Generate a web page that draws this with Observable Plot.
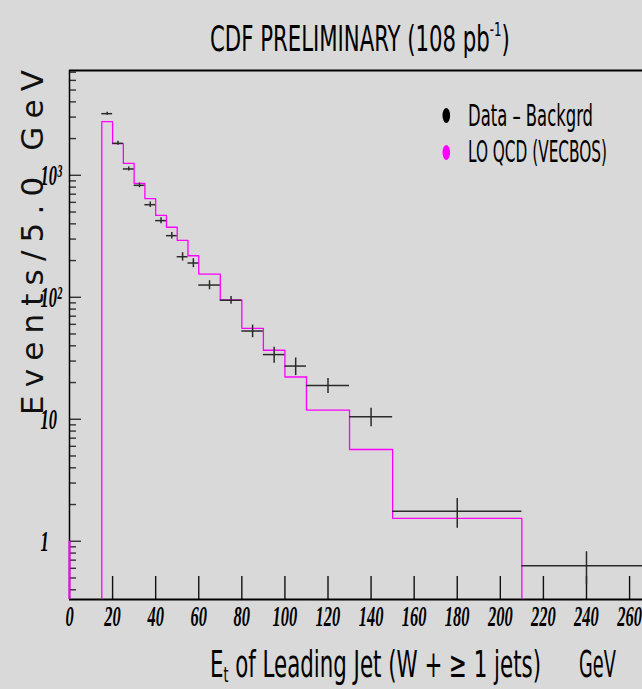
<!DOCTYPE html>
<html><head><meta charset="utf-8">
<script src="https://cdn.jsdelivr.net/npm/d3@7"></script>
<script src="https://cdn.jsdelivr.net/npm/@observablehq/plot@0.6"></script>
<style>
html,body{margin:0;padding:0;background:#d9d9d9;}
#chart{width:642px;height:689px;overflow:hidden;position:relative;}
</style></head><body><div id="chart"></div>
<script>
// ---- data ----
const binLo   = [15,20,25,30,35,40,45,50,55,60,70,80,90,100,110,130,150,210];
const binHi   = [20,25,30,35,40,45,50,55,60,70,80,90,100,110,130,150,210,270];
const dataVal = [3200,1829,1127,828,574,425,320,215,191,126,94.5,52.9,33.9,27.3,18.9,10.5,1.76,0.63];
const dataErr = [91,69,43,36,30,24,20,17,16,10.7,7,6.3,5.1,4.5,2.65,1.8,0.48,0.19];
const mcVal   = [2750,1816,1254,860,643,470,375,293,219,155,95,55.7,36.8,22.2,11.9,5.65,1.54];
const mcStubTop = 1;

const xTicks = [0,20,40,60,80,100,120,140,160,180,200,220,240,260];
const xTickLabels = ["0","20","40","60","80","100","120","140","160","180","200","220","240","260"];
const yMajor = [1,10,100,1000];
const yLabels = ["1","10","10\u00B2","10\u00B3"];
const yMinor = [0.4,0.5,0.6,0.7,0.8,0.9,2,3,4,5,6,7,8,9,20,30,40,50,60,70,80,90,
                200,300,400,500,600,700,800,900,2000,3000,4000,5000,6000,7000];

const legendLabels = ["Data \u2013 Backgrd","LO QCD (VECBOS)"];
const legendColors = ["#000000","#ff00ff"];

const titleText = "CDF PRELIMINARY (108 pb";
const titleSup = "-1";
const yTitle = "Events/5.0 GeV";
const xTitleMain = "E";
const xTitleSub = "t";
const xTitleRest = " of Leading Jet (W + \u2265 1 jets)";
const xTitleUnit = "GeV";

// ---- derived tables ----
const xDomain = [0, 266];
const yDomain = [0.333, 7230];
const rows = binLo.map((lo, i) => ({lo, hi: binHi[i], v: dataVal[i], e: dataErr[i]}));
const mcPath = [{x: binLo[0], y: yDomain[0]}];
mcVal.forEach((v, i) => { mcPath.push({x: binLo[i], y: v}, {x: binHi[i], y: v}); });
mcPath.push({x: binHi[mcVal.length - 1], y: yDomain[0]});

const W = 642, H = 689, mL = 69, mT = 70, mB = 90, mR = 0;
const frameW = W - mL - mR, frameH = H - mT - mB;
const tickFont = "'Liberation Serif', 'DejaVu Serif', serif";
const narrow = "'Liberation Sans Narrow', 'DejaVu Sans Condensed', sans-serif";

const chart = Plot.plot({
  width: W, height: H,
  marginTop: mT, marginBottom: mB, marginLeft: mL, marginRight: mR,
  style: {background: "transparent", overflow: "visible"},
  x: {domain: xDomain, axis: null, label: null},
  y: {type: "log", domain: yDomain, axis: null, label: null},
  marks: [
    // ticks (inside the frame)
    Plot.tickX(xTicks.slice(1), {x: d => d, stroke: "#111", strokeWidth: 1.4, insetTop: frameH - 23}),
    Plot.tickY(yMajor, {y: d => d, stroke: "#333", strokeWidth: 1.4, insetRight: frameW - 12}),
    Plot.tickY(yMinor, {y: d => d, stroke: "#333", strokeWidth: 1.4, insetRight: frameW - 7}),
    // tick labels
    Plot.text(xTicks, {x: d => d, text: (d, i) => xTickLabels[i], frameAnchor: "bottom", dy: 26,
      fontFamily: tickFont, fontWeight: "bold", fontStyle: "italic", fontSize: 30, fill: "#000"}),
    Plot.text(yMajor, {y: d => d, text: (d, i) => yLabels[i], frameAnchor: "left", dx: -29, textAnchor: "start",
      fontFamily: tickFont, fontWeight: "bold", fontStyle: "italic", fontSize: 30, fill: "#000"}),
    // frame lines
    Plot.ruleX([0], {y1: yDomain[0], y2: yDomain[1], stroke: "#000", strokeWidth: 1.5}),
    Plot.ruleY([yDomain[1]], {stroke: "#000", strokeWidth: 2}),
    Plot.ruleY([yDomain[0]], {stroke: "#000", strokeWidth: 2}),
    // MC histogram
    Plot.ruleX([0], {y1: yDomain[0], y2: mcStubTop, stroke: "#ff00ff", strokeWidth: 2}),
    Plot.line(mcPath, {x: "x", y: "y", stroke: "#ff00ff", strokeWidth: 1.3, clip: true}),
    // data crosses
    Plot.ruleY(rows, {y: "v", x1: "lo", x2: "hi", stroke: "#2a2a2a", strokeWidth: 1.5, clip: true}),
    Plot.ruleX(rows, {x: d => (d.lo + d.hi) / 2, y1: d => d.v - d.e, y2: d => d.v + d.e,
      stroke: "#2a2a2a", strokeWidth: 1.5, clip: true})
  ]
});
document.getElementById("chart").appendChild(chart);

// condense tick labels
d3.select(chart).selectAll('g[aria-label="text"] text').each(function() {
  const t = this.getAttribute("transform") || "";
  this.setAttribute("transform", t + " scale(0.55,1)");
});

// ---- annotations ----
const svg = d3.select(chart);
const ann = svg.append("g").attr("text-anchor", "start").style("text-anchor", "start");
function fit(sel, x0, base, width) {
  const w = sel.node().getBBox().width;
  sel.attr("transform", `translate(${x0},${base}) scale(${width / w},1)`);
}

const t = ann.append("text").attr("font-family", narrow).attr("font-size", 36).attr("fill", "#000");
t.append("tspan").text(titleText);
t.append("tspan").attr("font-size", 20).attr("dy", -15).text(titleSup);
t.append("tspan").attr("dy", 15).text(")");
fit(t, 210, 51, 300);

ann.append("text").attr("font-family", "'DejaVu Sans', sans-serif").attr("font-size", 31)
  .attr("fill", "#111").attr("textLength", 345).attr("lengthAdjust", "spacing")
  .attr("transform", "translate(43,415) rotate(-90)").text(yTitle);

const xt = ann.append("text").attr("font-family", narrow).attr("font-size", 37).attr("fill", "#000");
xt.append("tspan").text(xTitleMain);
xt.append("tspan").attr("font-size", 22).attr("dy", 5).text(xTitleSub);
xt.append("tspan").attr("dy", -5).text(xTitleRest);
fit(xt, 210, 677, 331);
const xu = ann.append("text").attr("font-family", narrow).attr("font-size", 37).attr("fill", "#000").text(xTitleUnit);
fit(xu, 579, 677, 37);

const legY = [115.5, 152.5];
const legBase = [126, 162];
const legW = [125, 139];
legendLabels.forEach((lab, i) => {
  ann.append("ellipse").attr("cx", 446.3).attr("cy", legY[i]).attr("rx", 3.8).attr("ry", 7.5).attr("fill", legendColors[i]);
  const lt = ann.append("text").attr("font-family", narrow).attr("font-size", 30).attr("fill", "#000").text(lab);
  fit(lt, 468, legBase[i], legW[i]);
});
</script></body></html>
